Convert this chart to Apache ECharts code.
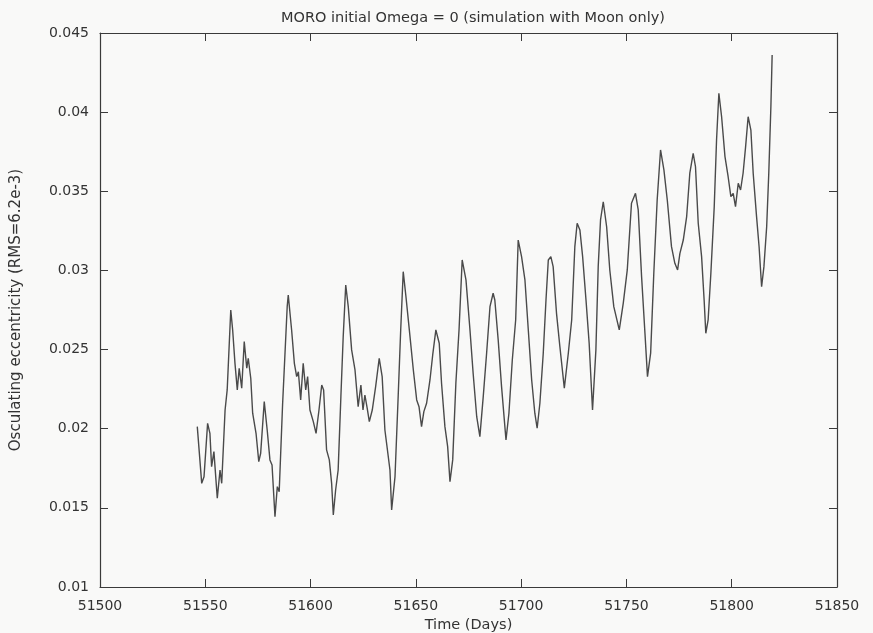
<!DOCTYPE html>
<html>
<head>
<meta charset="utf-8">
<script src="https://cdn.jsdelivr.net/npm/echarts@6/dist/echarts.min.js"></script>
<style>
  html, body { margin: 0; padding: 0; background: #f9f9f8; }
  #chart { width: 873px; height: 633px; }
</style>
</head>
<body>
<div id="chart"></div>
<script>
// Time axis (MJD days)
const days = [
  51546.2, 51548.3, 51549.4, 51551.1, 51552.2, 51553.0, 51554.1, 51555.7, 51557.0, 51557.8,
  51559.4, 51560.4, 51562.1, 51563.0, 51564.1, 51565.2, 51566.1, 51567.3, 51568.5, 51569.7,
  51570.4, 51571.6, 51572.5, 51574.1, 51575.4, 51576.3, 51578.0, 51579.4, 51580.7, 51581.7,
  51583.1, 51584.2, 51585.1, 51586.7, 51588.9, 51589.4, 51591.0, 51592.3, 51593.4, 51594.2,
  51595.3, 51596.5, 51597.7, 51598.6, 51599.7, 51601.3, 51602.6, 51604.0, 51605.3, 51606.2,
  51607.6, 51608.9, 51610.0, 51610.8, 51611.9, 51613.1, 51614.4, 51615.5, 51616.7, 51617.9,
  51619.5, 51621.1, 51622.6, 51623.9, 51624.9, 51625.8, 51626.9, 51627.9, 51629.3, 51630.9,
  51632.6, 51634.0, 51635.3, 51636.1, 51637.7, 51638.5, 51640.1, 51641.6, 51642.8, 51644.0,
  51645.3, 51646.9, 51648.8, 51650.4, 51651.5, 51652.7, 51653.8, 51655.1, 51656.7, 51658.0,
  51659.5, 51661.1, 51662.2, 51663.8, 51665.1, 51666.2, 51667.5, 51669.0, 51670.5, 51672.0,
  51673.8, 51675.7, 51677.2, 51678.9, 51680.4, 51682.0, 51683.6, 51685.2, 51686.7, 51687.5,
  51689.1, 51690.7, 51692.8, 51694.2, 51695.8, 51697.4, 51698.6, 51700.2, 51701.8, 51703.4,
  51705.0, 51706.5, 51707.6, 51708.9, 51710.5, 51711.8, 51712.9, 51714.1, 51715.2, 51716.8,
  51718.4, 51720.5, 51722.4, 51724.0, 51725.5, 51726.6, 51727.9, 51729.2, 51730.8, 51732.3,
  51733.9, 51735.5, 51736.6, 51737.7, 51739.0, 51740.6, 51742.1, 51744.0, 51746.6, 51748.5,
  51750.4, 51752.4, 51754.3, 51755.6, 51757.2, 51758.8, 51760.0, 51761.5, 51763.0, 51764.6,
  51766.2, 51767.8, 51769.4, 51771.4, 51773.0, 51774.3, 51775.4, 51777.0, 51778.6, 51780.1,
  51781.7, 51782.8, 51784.1, 51785.7, 51786.9, 51787.7, 51788.8, 51790.1, 51791.7, 51792.8,
  51793.9, 51795.2, 51796.8, 51798.3, 51799.6, 51800.7, 51801.8, 51803.1, 51804.2, 51805.4,
  51806.6, 51807.8, 51809.1, 51810.2, 51811.8, 51813.0, 51814.2, 51815.3, 51816.6, 51817.6,
  51818.6, 51819.2
];

// Osculating eccentricity at each day
const eccentricity = [
  0.02013, 0.01655, 0.01697, 0.02034, 0.01971, 0.01760, 0.01855, 0.01561, 0.01739, 0.01655,
  0.02118, 0.02245, 0.02750, 0.02624, 0.02413, 0.02245, 0.02382, 0.02256, 0.02550, 0.02382,
  0.02445, 0.02319, 0.02098, 0.01971, 0.01792, 0.01845, 0.02171, 0.01992, 0.01803, 0.01771,
  0.01444, 0.01634, 0.01602, 0.02150, 0.02771, 0.02845, 0.02624, 0.02413, 0.02329, 0.02360,
  0.02182, 0.02413, 0.02245, 0.02329, 0.02118, 0.02045, 0.01971, 0.02118, 0.02276, 0.02245,
  0.01866, 0.01803, 0.01655, 0.01455, 0.01613, 0.01739, 0.02203, 0.02582, 0.02908, 0.02771,
  0.02498, 0.02371, 0.02139, 0.02276, 0.02118, 0.02213, 0.02129, 0.02045, 0.02118, 0.02266,
  0.02445, 0.02329, 0.01992, 0.01908, 0.01739, 0.01487, 0.01697, 0.02203, 0.02624, 0.02992,
  0.02834, 0.02624, 0.02371, 0.02182, 0.02139, 0.02013, 0.02108, 0.02161, 0.02308, 0.02466,
  0.02624, 0.02540, 0.02287, 0.02013, 0.01887, 0.01666, 0.01803, 0.02287, 0.02624, 0.03066,
  0.02940, 0.02624, 0.02350, 0.02076, 0.01950, 0.02203, 0.02477, 0.02771, 0.02856, 0.02813,
  0.02561, 0.02266, 0.01929, 0.02098, 0.02434, 0.02687, 0.03192, 0.03087, 0.02940, 0.02624,
  0.02308, 0.02098, 0.02003, 0.02161, 0.02477, 0.02813, 0.03066, 0.03087, 0.03024, 0.02729,
  0.02518, 0.02256, 0.02477, 0.02687, 0.03150, 0.03298, 0.03256, 0.03087, 0.02813, 0.02540,
  0.02118, 0.02498, 0.03024, 0.03319, 0.03434, 0.03276, 0.03003, 0.02771, 0.02624, 0.02793,
  0.03003, 0.03424, 0.03487, 0.03382, 0.02961, 0.02603, 0.02329, 0.02477, 0.02982, 0.03445,
  0.03761, 0.03635, 0.03445, 0.03150, 0.03045, 0.03003, 0.03108, 0.03192, 0.03340, 0.03614,
  0.03740, 0.03655, 0.03298, 0.03087, 0.02813, 0.02603, 0.02687, 0.02982, 0.03403, 0.03824,
  0.04119, 0.03971, 0.03719, 0.03592, 0.03466, 0.03487, 0.03403, 0.03551, 0.03508, 0.03614,
  0.03782, 0.03971, 0.03887, 0.03614, 0.03340, 0.03150, 0.02897, 0.03024, 0.03276, 0.03614,
  0.04034, 0.04361
];

// Axis ranges and tick spacing
const xRange = [51500, 51850];
const xStep = 50;
const yRange = [0.01, 0.045];
const yStep = 0.005;

const FONT = '"DejaVu Sans", "Liberation Sans", Arial, sans-serif';
const INK = '#3a3a3a';
const TEXT = '#333';

const chart = echarts.init(document.getElementById('chart'));

const frameLine = { show: true, lineStyle: { color: INK, width: 1.2 } };
const innerTick = { show: true, inside: true, length: 8, lineStyle: { color: INK, width: 1 } };

chart.setOption({
  backgroundColor: '#f9f9f8',
  animation: false,
  title: {
    text: 'MORO initial Omega = 0 (simulation with Moon only)',
    left: 468,
    top: 6,
    textAlign: 'center',
    textStyle: { fontFamily: FONT, fontSize: 14.5, fontWeight: 'normal', color: TEXT }
  },
  grid: { left: 100, right: 36, top: 33, bottom: 46, containLabel: false, outerBoundsMode: 'none' },
  xAxis: [
    {
      type: 'value',
      min: xRange[0], max: xRange[1], interval: xStep,
      name: 'Time (Days)',
      nameLocation: 'middle',
      nameGap: 25,
      nameTextStyle: { fontFamily: FONT, fontSize: 14.5, color: TEXT },
      axisLine: frameLine,
      axisTick: innerTick,
      axisLabel: { fontFamily: FONT, fontSize: 14, color: TEXT, margin: 12, formatter: v => String(v) },
      splitLine: { show: false }
    },
    {
      type: 'value', position: 'top',
      min: xRange[0], max: xRange[1], interval: xStep,
      axisLine: frameLine,
      axisTick: innerTick,
      axisLabel: { show: false },
      splitLine: { show: false }
    }
  ],
  yAxis: [
    {
      type: 'value',
      min: yRange[0], max: yRange[1], interval: yStep,
      name: 'Osculating eccentricity (RMS=6.2e-3)',
      nameLocation: 'middle',
      nameGap: 76,
      nameTextStyle: { fontFamily: FONT, fontSize: 15, color: TEXT },
      axisLine: frameLine,
      axisTick: innerTick,
      axisLabel: { fontFamily: FONT, fontSize: 14, color: TEXT, margin: 11 },
      splitLine: { show: false }
    },
    {
      type: 'value', position: 'right',
      min: yRange[0], max: yRange[1], interval: yStep,
      axisLine: frameLine,
      axisTick: innerTick,
      axisLabel: { show: false },
      splitLine: { show: false }
    }
  ],
  series: [
    {
      type: 'line',
      data: days.map((d, i) => [d, eccentricity[i]]),
      showSymbol: false,
      smooth: false,
      lineStyle: { color: '#4a4a4a', width: 1.4 }
    }
  ]
});
</script>
</body>
</html>
